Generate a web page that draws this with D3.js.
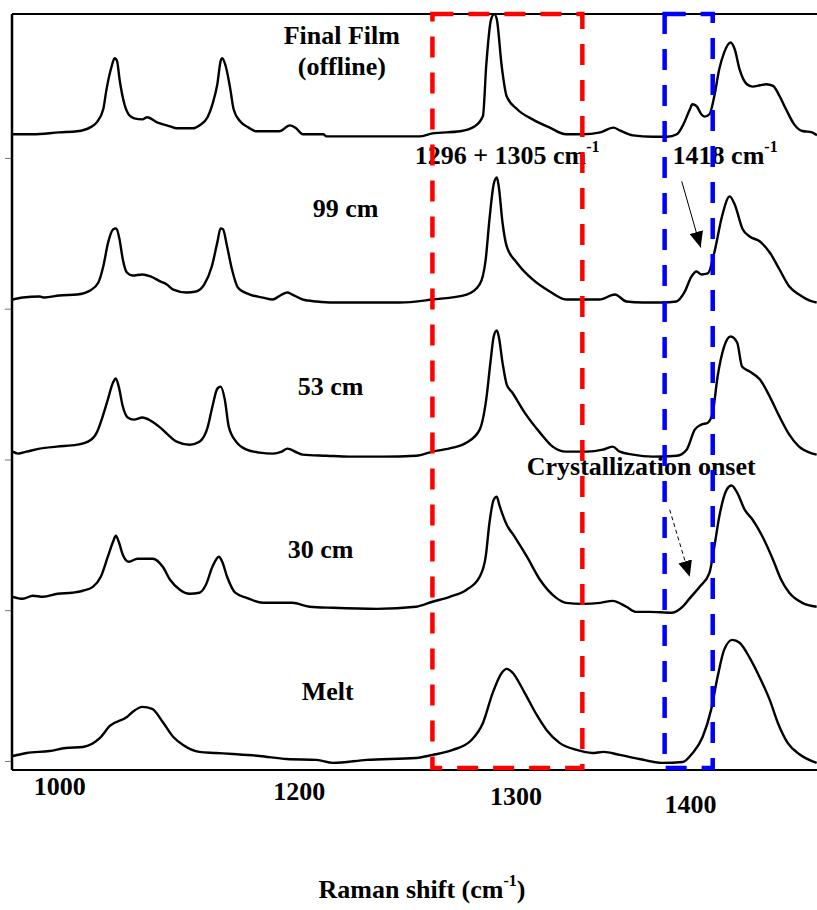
<!DOCTYPE html>
<html>
<head>
<meta charset="utf-8">
<script src="https://cdn.jsdelivr.net/npm/d3@7"></script>
<style>
  body { margin: 0; background: #fff; }
  svg text { font-family: "Liberation Serif", "Times New Roman", serif; font-weight: bold; fill: #000; }
</style>
</head>
<body>
<script>
// spectra: [Raman shift (cm-1), intensity above the stack offset]
const melt = [[1001.5,0.033],[1010,0.053],[1024,0.066],[1034,0.086],[1044.5,0.093],[1055,0.153],[1061,0.232],[1071.5,0.292],[1075,0.325],[1081,0.359],[1087,0.345],[1093.5,0.259],[1100,0.159],[1106,0.106],[1116,0.06],[1126,0.053],[1136.5,0.046],[1153,0.033],[1169.6,0.013],[1188,0.007],[1198,-0.013],[1218.7,0.007],[1249,0.02],[1259,0.04],[1271.5,0.073],[1283,0.139],[1290,0.252],[1296,0.452],[1301.5,0.584],[1304.6,0.611],[1307.7,0.591],[1315.6,0.452],[1323,0.305],[1329,0.206],[1337,0.12],[1347.5,0.073],[1357,0.053],[1364,0.06],[1374,0.04],[1386,0.013],[1400,-0.013],[1412.6,-0.007],[1418.7,0.053],[1424.8,0.159],[1430,0.339],[1434,0.558],[1438,0.737],[1443,0.803],[1447.5,0.784],[1453.7,0.684],[1460,0.551],[1466,0.405],[1471,0.252],[1477,0.12],[1484,0.046],[1494.8,-0.013]];

const cm30 = [[1001.5,0.089],[1007.6,0.076],[1013.8,0.096],[1020,0.089],[1029,0.109],[1038,0.116],[1044.5,0.129],[1050.6,0.155],[1055.5,0.222],[1059.8,0.355],[1063,0.454],[1064.7,0.494],[1066.5,0.454],[1069,0.368],[1072.7,0.321],[1078,0.341],[1087.4,0.341],[1093.5,0.288],[1098,0.202],[1104,0.136],[1110,0.109],[1116,0.116],[1120,0.169],[1124,0.288],[1128,0.355],[1130,0.321],[1133,0.222],[1138,0.116],[1145,0.082],[1155,0.049],[1167,0.049],[1173,0.049],[1183.7,0.023],[1198,0.016],[1225,0.009],[1249,0.023],[1259,0.056],[1269.6,0.089],[1280,0.136],[1288,0.222],[1291.7,0.355],[1294,0.58],[1296.6,0.733],[1298.5,0.753],[1300,0.7],[1304.6,0.567],[1309.5,0.487],[1317,0.355],[1325,0.202],[1335,0.082],[1341,0.049],[1351,0.042],[1362,0.049],[1369.6,0.062],[1378,0.023],[1384,-0.011],[1392,-0.011],[1406,-0.017],[1412.6,0.023],[1417,0.08],[1423,0.155],[1429,0.248],[1432,0.421],[1435,0.62],[1439.6,0.8],[1442.6,0.827],[1446,0.78],[1450.6,0.667],[1455.5,0.6],[1461.6,0.487],[1468,0.335],[1473,0.202],[1478,0.116],[1486,0.049],[1494.8,0.023]];

const cm53 = [[1001.5,0.052],[1004.6,0.039],[1010,0.052],[1018,0.072],[1028.5,0.085],[1041,0.098],[1047.6,0.118],[1053,0.178],[1056,0.264],[1059.8,0.397],[1063,0.51],[1064.7,0.537],[1066.5,0.483],[1069,0.351],[1072,0.278],[1075.8,0.264],[1081,0.278],[1086,0.258],[1092,0.211],[1098,0.151],[1102,0.118],[1110,0.098],[1116,0.118],[1121,0.211],[1124,0.351],[1127,0.47],[1129,0.483],[1131.6,0.397],[1134,0.218],[1139,0.112],[1145,0.065],[1153,0.045],[1161,0.039],[1166.5,0.052],[1170,0.072],[1176,0.045],[1179.4,0.032],[1194,0.025],[1208,0.019],[1228.5,0.019],[1249,0.025],[1259,0.052],[1271.5,0.078],[1280,0.112],[1288,0.198],[1292,0.397],[1294.8,0.663],[1296.6,0.816],[1298.5,0.856],[1299.7,0.816],[1302,0.643],[1304.6,0.497],[1308,0.444],[1315.6,0.311],[1325,0.178],[1332.8,0.085],[1341,0.052],[1353.7,0.052],[1363.5,0.065],[1369.6,0.085],[1374,0.052],[1382,0.032],[1394,0.019],[1409,0.025],[1415,0.065],[1420,0.198],[1424,0.231],[1428,0.244],[1431,0.311],[1434,0.55],[1438,0.749],[1442,0.816],[1446,0.776],[1449,0.616],[1453.7,0.583],[1460,0.53],[1466,0.417],[1472,0.284],[1478,0.165],[1484,0.085],[1490.5,0.045],[1494.8,0.032]];

const cm99 = [[1001.5,0.061],[1007.6,0.074],[1018,0.081],[1021,0.074],[1030,0.088],[1041,0.094],[1049,0.121],[1054,0.174],[1057,0.28],[1060,0.44],[1063,0.526],[1065,0.533],[1067,0.459],[1069,0.327],[1071.5,0.24],[1075,0.22],[1081,0.227],[1086,0.214],[1092,0.181],[1096,0.161],[1100,0.127],[1108,0.108],[1114,0.114],[1119,0.161],[1123.6,0.28],[1127,0.44],[1129,0.533],[1130.5,0.526],[1133,0.413],[1136,0.26],[1139.6,0.141],[1147,0.094],[1155,0.074],[1161,0.061],[1166.5,0.094],[1170,0.108],[1173,0.094],[1179.4,0.061],[1188,0.048],[1198,0.041],[1218.7,0.041],[1239,0.041],[1259,0.061],[1280,0.094],[1288,0.161],[1291.7,0.327],[1294,0.593],[1296.6,0.825],[1298.5,0.871],[1299.7,0.811],[1302,0.572],[1304.6,0.413],[1310.7,0.307],[1320.5,0.194],[1331,0.114],[1341,0.061],[1361.6,0.061],[1371,0.094],[1378,0.048],[1388,0.041],[1400,0.041],[1408.7,0.048],[1413.6,0.108],[1418,0.214],[1421,0.247],[1424,0.227],[1428,0.234],[1432,0.373],[1436.7,0.612],[1441.4,0.745],[1444.5,0.692],[1449.4,0.527],[1453.7,0.479],[1460,0.446],[1466,0.373],[1472,0.26],[1478,0.147],[1484,0.094],[1492,0.048],[1494.8,0.041]];

const finalFilm = [[1001,0.157],[1014,0.157],[1030,0.17],[1041,0.177],[1049,0.203],[1053,0.236],[1057,0.323],[1059,0.455],[1062,0.602],[1064,0.661],[1065.5,0.641],[1067,0.522],[1070,0.356],[1073,0.283],[1076,0.263],[1081,0.256],[1084,0.27],[1090,0.236],[1098,0.21],[1102,0.197],[1112,0.197],[1116,0.216],[1121,0.27],[1124,0.356],[1127,0.489],[1129,0.641],[1130,0.661],[1132,0.615],[1135,0.455],[1137,0.323],[1141,0.243],[1146,0.203],[1151,0.177],[1165,0.177],[1171.5,0.216],[1175,0.2],[1179.5,0.157],[1192,0.157],[1194,0.143],[1239,0.143],[1251,0.143],[1259,0.163],[1276,0.177],[1285,0.21],[1290,0.278],[1292,0.61],[1295,0.92],[1297,0.954],[1298.5,0.92],[1301.5,0.61],[1304.5,0.411],[1311,0.323],[1320.5,0.256],[1331,0.201],[1341,0.157],[1351,0.157],[1362,0.17],[1370,0.201],[1374,0.183],[1382,0.15],[1394,0.141],[1403,0.141],[1409,0.157],[1412.5,0.212],[1417,0.323],[1418.5,0.356],[1421,0.345],[1424,0.29],[1426,0.274],[1429,0.29],[1432,0.411],[1435,0.588],[1438,0.699],[1442,0.766],[1444.5,0.721],[1447.5,0.588],[1452,0.489],[1455.5,0.473],[1460,0.482],[1464,0.489],[1468,0.478],[1472,0.411],[1476,0.323],[1481,0.223],[1486,0.179],[1492,0.17],[1495,0.15]];

const spectra = [melt, cm30, cm53, cm99, finalFilm];
const offsets = [0, 1, 2, 3, 4];

// spectrum labels: text, shift, intensity (baseline)
const labelText = ["Melt", "30 cm", "53 cm", "99 cm", "Final Film", "(offline)"];
const labelX = [1178.8, 1170.2, 1176.4, 1185.6, 1203.4, 1203.4];
const labelY = [0.405, 1.348, 2.43, 3.606, 4.754, 4.55];

// x tick labels as printed on the figure, and where they sit
const tickLabels = ["1000", "1200", "1300", "1400"];
const tickPos = [1030, 1177, 1310, 1417];

// highlighted bands (cm-1)
const redBand = [1259, 1351];
const blueBand = [1401.5, 1431];

const W = 817, H = 910;
const svg = d3.select("body").append("svg").attr("width", W).attr("height", H);

const x = d3.scaleLinear().domain([1001, 1495]).range([12, 817]);
const y = d3.scaleLinear().domain([-0.06, 4.955]).range([770, 14]);

svg.append("defs").append("clipPath").attr("id", "plot")
  .append("rect").attr("x", 12).attr("y", 10).attr("width", 805).attr("height", 762);

const defs = svg.select("defs");
defs.append("marker").attr("id", "head")
  .attr("markerUnits", "userSpaceOnUse")
  .attr("viewBox", "0 0 16 14").attr("refX", 16).attr("refY", 7)
  .attr("markerWidth", 16).attr("markerHeight", 14).attr("orient", "auto")
  .append("path").attr("d", "M0,0 L16,7 L0,14 Z").attr("fill", "#000");

// y ticks (stack offsets)
svg.append("g")
  .attr("transform", "translate(12,0)")
  .call(d3.axisLeft(y).tickValues(offsets).tickSize(7).tickFormat(""))
  .call(g => g.select(".domain").remove())
  .call(g => g.selectAll(".tick line").attr("stroke", "#777").attr("stroke-width", 1));

// x axis labels
const xAxis = svg.append("g")
  .attr("transform", "translate(0,770)")
  .call(d3.axisBottom(x).tickValues(tickPos).tickSize(0).tickFormat((d, i) => tickLabels[i]));
xAxis.select(".domain").remove();
const labelDrop = [25, 30, 35, 43];
xAxis.selectAll(".tick text")
  .attr("dy", null)
  .attr("y", (d, i) => labelDrop[i])
  .style("font-size", "26px");

// frame: left, top and bottom lines
svg.append("line").attr("x1", 12).attr("x2", 12).attr("y1", y.range()[1]).attr("y2", y.range()[0])
  .attr("stroke", "#000").attr("stroke-width", 2.5);
svg.append("line").attr("x1", 12).attr("x2", W).attr("y1", 14).attr("y2", 14)
  .attr("stroke", "#000").attr("stroke-width", 2);
svg.append("line").attr("x1", 12).attr("x2", W).attr("y1", 770).attr("y2", 770)
  .attr("stroke", "#000").attr("stroke-width", 2);

// spectra
const plot = svg.append("g").attr("clip-path", "url(#plot)");
spectra.forEach((s, i) => {
  const line = d3.line()
    .x(d => x(d[0]))
    .y(d => y(d[1] + offsets[i]))
    .curve(d3.curveMonotoneX);
  plot.append("path").datum(s)
    .attr("d", line)
    .attr("fill", "none")
    .attr("stroke", "#000")
    .attr("stroke-width", 2.4)
    .attr("stroke-linejoin", "round");
});

// spectrum labels
svg.selectAll("text.lab").data(labelText).join("text")
  .attr("class", "lab")
  .attr("x", (d, i) => x(labelX[i]))
  .attr("y", (d, i) => y(labelY[i]))
  .attr("text-anchor", (d, i) => i >= 4 ? "middle" : "start")
  .style("font-size", "26px")
  .text(d => d);

// peak annotations
function supLabel(txt, v, h) {
  const t = svg.append("text").attr("x", x(v)).attr("y", y(h)).style("font-size", "26px");
  t.append("tspan").text(txt);
  t.append("tspan").attr("dy", -12).style("font-size", "16px").text("-1");
}
supLabel("1296 + 1305 cm", 1248.1, 3.958);
supLabel("1418 cm", 1406.4, 3.958);

svg.append("text").attr("x", x(1316.9)).attr("y", y(1.899))
  .style("font-size", "26px").text("Crystallization onset");

// arrows
svg.append("line")
  .attr("x1", x(1412)).attr("y1", y(3.845)).attr("x2", x(1423.6)).attr("y2", y(3.406))
  .attr("stroke", "#000").attr("stroke-width", 1).attr("marker-end", "url(#head)");
svg.append("line")
  .attr("x1", x(1404.6)).attr("y1", y(1.667)).attr("x2", x(1416.9)).attr("y2", y(1.222))
  .attr("stroke", "#000").attr("stroke-width", 1).attr("stroke-dasharray", "4,3")
  .attr("marker-end", "url(#head)");

// dashed band boxes
const boxTop = 4.955, boxBottom = -0.046;
[[redBand, "#ff0000"], [blueBand, "#0000ff"]].forEach(([b, c]) => {
  svg.append("rect")
    .attr("x", x(b[0])).attr("y", y(boxTop))
    .attr("width", x(b[1]) - x(b[0])).attr("height", y(boxBottom) - y(boxTop))
    .attr("fill", "none").attr("stroke", c).attr("stroke-width", 4.5)
    .attr("stroke-dasharray", "21,15");
});

// axis title
const title = svg.append("text").attr("x", 422).attr("y", 898)
  .attr("text-anchor", "middle").style("font-size", "26px");
title.append("tspan").text("Raman shift (cm");
title.append("tspan").attr("dy", -12).style("font-size", "16px").text("-1");
title.append("tspan").attr("dy", 12).text(")");
</script>
</body>
</html>
